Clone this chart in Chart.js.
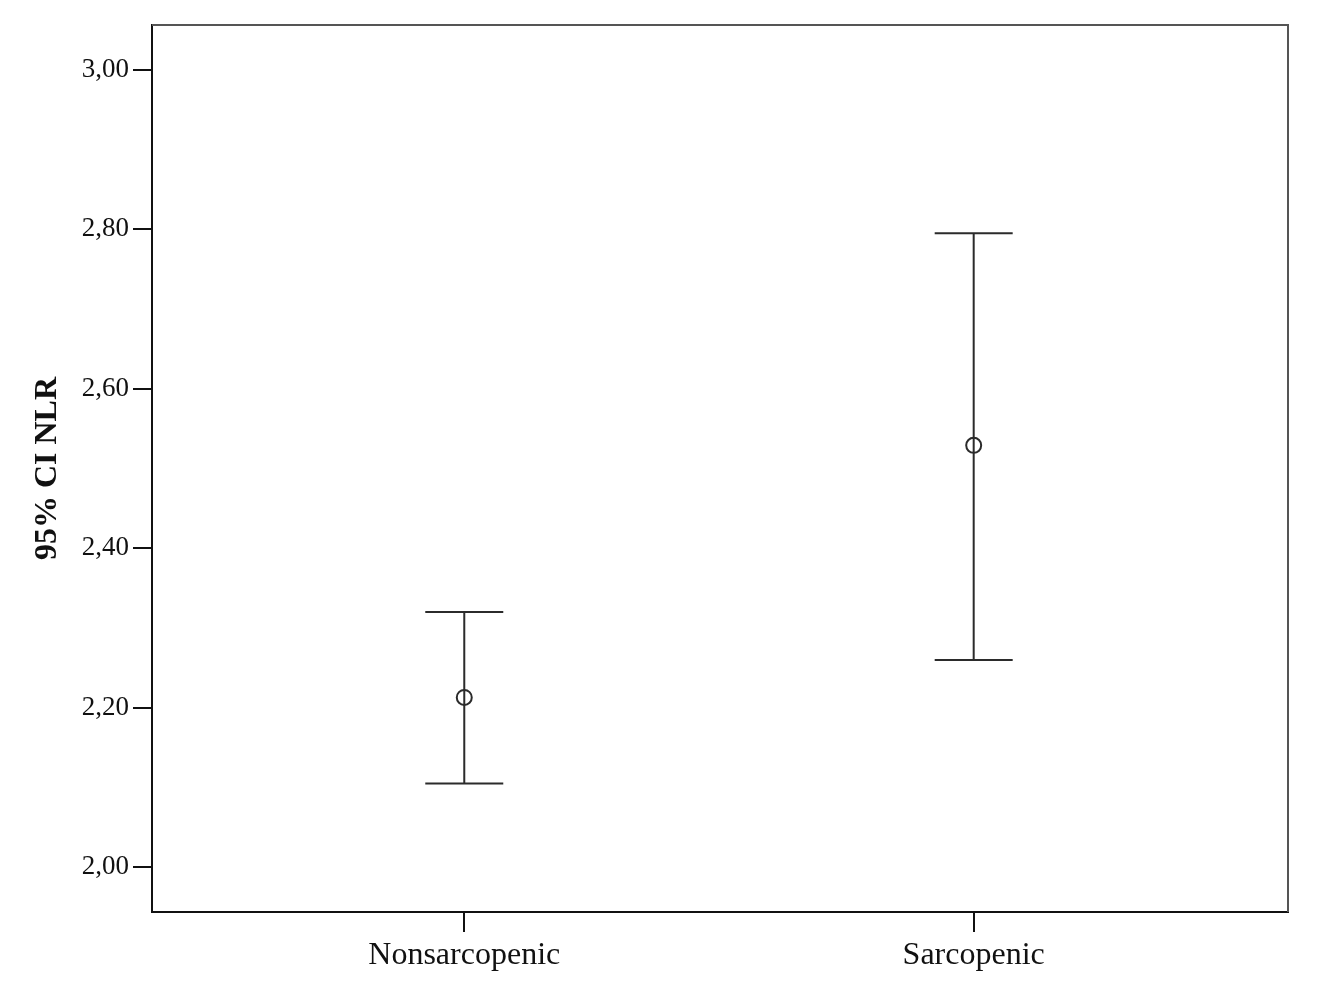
<!DOCTYPE html>
<html>
<head>
<meta charset="utf-8">
<script src="https://cdn.jsdelivr.net/npm/chart.js@4.4.1/dist/chart.umd.min.js"></script>
<style>
  html, body { margin: 0; padding: 0; background: #fff; }
  #wrap { width: 1320px; height: 994px; }
</style>
</head>
<body>
<div id="wrap"><canvas id="ciChart" width="1320" height="994"></canvas></div>
<script>
// data
const groups = ['Nonsarcopenic', 'Sarcopenic'];
const means = [2.213, 2.529];
const lower = [2.105, 2.260];
const upper = [2.320, 2.795];
const yTicks = [2.00, 2.20, 2.40, 2.60, 2.80, 3.00];

const serif = '"Liberation Serif", "Times New Roman", serif';

// vertical CI lines with caps, drawn from the scales
const errorBars = {
    id: 'errorBars',
    beforeDatasetsDraw(chart) {
        const ctx = chart.ctx;
        const xs = chart.scales.x, ys = chart.scales.y;
        ctx.save();
        ctx.strokeStyle = '#2b2b2b';
        ctx.lineWidth = 2;
        groups.forEach((g, i) => {
            const px = xs.getPixelForValue(i);
            const top = ys.getPixelForValue(upper[i]);
            const bot = ys.getPixelForValue(lower[i]);
            ctx.beginPath();
            ctx.moveTo(px, top); ctx.lineTo(px, bot);
            ctx.moveTo(px - 39, top); ctx.lineTo(px + 39, top);
            ctx.moveTo(px - 39, bot); ctx.lineTo(px + 39, bot);
            ctx.stroke();
        });
        ctx.restore();
    }
};

// grey frame on top and right side
const frame = {
    id: 'frame',
    afterDraw(chart) {
        const a = chart.chartArea, ctx = chart.ctx;
        ctx.save();
        ctx.strokeStyle = '#555';
        ctx.lineWidth = 2;
        ctx.beginPath();
        ctx.moveTo(a.left, a.top);
        ctx.lineTo(a.right, a.top);
        ctx.lineTo(a.right, a.bottom);
        ctx.stroke();
        ctx.restore();
    }
};

const ctx = document.getElementById('ciChart').getContext('2d');
new Chart(ctx, {
    type: 'scatter',
    data: {
        datasets: [{
            label: 'Mean NLR',
            data: groups.map((g, i) => ({ x: i, y: means[i] })),
            pointStyle: 'circle',
            pointRadius: 7.5,
            pointHoverRadius: 7.5,
            pointBorderWidth: 2,
            pointBorderColor: '#2b2b2b',
            pointBackgroundColor: 'rgba(255,255,255,0)'
        }]
    },
    options: {
        responsive: false,
        animation: false,
        layout: { padding: { top: 25, right: 32, left: 0, bottom: 0 } },
        plugins: {
            legend: { display: false },
            tooltip: { enabled: false }
        },
        scales: {
            x: {
                type: 'linear',
                min: -0.613,
                max: 1.617,
                afterBuildTicks(scale) {
                    scale.ticks = groups.map((g, i) => ({ value: i }));
                },
                afterFit(scale) { scale.height = 82; },
                grid: {
                    drawOnChartArea: false,
                    drawTicks: true,
                    tickLength: 20,
                    color: '#111',
                    lineWidth: 2
                },
                border: { display: true, color: '#111', width: 2 },
                ticks: {
                    color: '#111',
                    padding: 4,
                    font: { family: serif, size: 32 },
                    callback: v => groups[v]
                }
            },
            y: {
                min: 1.944,
                max: 3.056,
                afterBuildTicks(scale) {
                    scale.ticks = yTicks.map(v => ({ value: v }));
                },
                afterFit(scale) { scale.width = 152; },
                grid: {
                    drawOnChartArea: false,
                    drawTicks: true,
                    tickLength: 19,
                    color: '#111',
                    lineWidth: 2
                },
                border: { display: true, color: '#111', width: 2 },
                ticks: {
                    color: '#111',
                    padding: 4,
                    font: { family: serif, size: 27 },
                    callback: v => v.toFixed(2).replace('.', ',')
                },
                title: {
                    display: true,
                    text: '95% CI NLR',
                    color: '#111',
                    padding: { top: 29, bottom: 0 },
                    font: { family: serif, size: 32, weight: 'bold' }
                }
            }
        }
    },
    plugins: [errorBars, frame]
});
</script>
</body>
</html>
